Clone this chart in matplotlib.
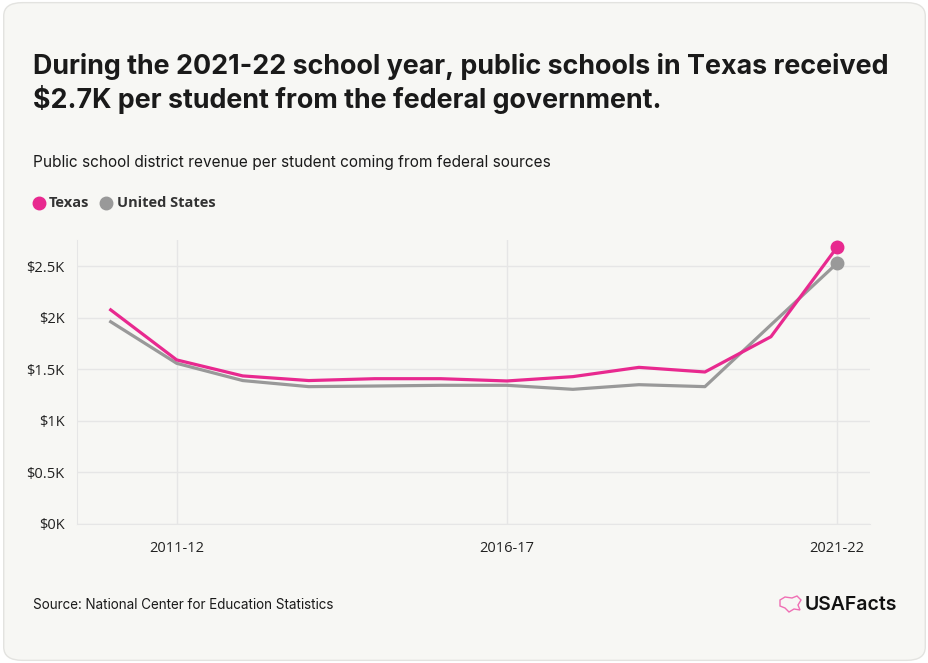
import numpy as np
import matplotlib
matplotlib.use("Agg")
import matplotlib.pyplot as plt
from matplotlib.patches import FancyBboxPatch, Polygon
from matplotlib.lines import Line2D
from matplotlib.ticker import FuncFormatter

# ---- data ----
YEARS = ["2010-11", "2011-12", "2012-13", "2013-14", "2014-15", "2015-16",
         "2016-17", "2017-18", "2018-19", "2019-20", "2020-21", "2021-22"]
TEXAS = [2075, 1590, 1435, 1390, 1408, 1408, 1386, 1428, 1518, 1473, 1815, 2681]
US = [1960, 1557, 1390, 1331, 1337, 1344, 1344, 1305, 1350, 1331, 1930, 2526]
SHOWN_TICKS = ["2011-12", "2016-17", "2021-22"]
Y_TICKS = [0, 500, 1000, 1500, 2000, 2500]

PINK = "#e8298f"
GRAY = "#999999"
BG = "#f7f7f4"
INK = "#1a1a1a"
W, H = 929, 663

def fx(px): return px / W
def fy(py): return 1 - py / H

fig = plt.figure(figsize=(9.29, 6.63), dpi=100)
fig.patch.set_facecolor("white")
card = FancyBboxPatch((0.004, 0.004), 0.992, 0.992,
                      boxstyle="round,pad=0,rounding_size=0.02",
                      transform=fig.transFigure, facecolor=BG,
                      edgecolor="#e3e3e0", linewidth=1.0, zorder=-10)
fig.patches.append(card)

# ---- text ----
fig.text(fx(33), fy(66), "During the 2021-22 school year, public schools in Texas received",
         fontsize=19.35, fontweight="bold", family="Inter", color=INK, va="center")
fig.text(fx(33), fy(99), "$2.7K per student from the federal government.",
         fontsize=19.35, fontweight="bold", family="Inter", color=INK, va="center")
fig.text(fx(33), fy(163), "Public school district revenue per student coming from federal sources",
         fontsize=11.1, family="Inter", color=INK, va="center")

# legend
for cx, col in [(39, PINK), (106, GRAY)]:
    fig.add_artist(Line2D([fx(cx)], [fy(203)], marker="o", ms=9, color=col,
                          transform=fig.transFigure))
fig.text(fx(49), fy(203), "Texas", fontsize=10.5, fontweight="bold",
         family="Open Sans", color="#333333", va="center")
fig.text(fx(117), fy(203), "United States", fontsize=10.5, fontweight="bold",
         family="Open Sans", color="#333333", va="center")

fig.text(fx(33), fy(605), "Source: National Center for Education Statistics",
         fontsize=9.7, family="Inter", color=INK, va="center")
fig.text(fx(897), fy(605), "USAFacts", fontsize=14, family="Inter",
         fontweight="semibold", color="#111111", va="center", ha="right")
# small outline mark next to the wordmark
icon = [(780, 600), (785, 597), (792, 598), (797, 596), (801, 600), (798, 605),
        (800, 610), (794, 609), (789, 612), (785, 608), (780, 606)]
fig.add_artist(Polygon([(fx(a), fy(b)) for a, b in icon], closed=True, fill=False,
                       edgecolor="#ef6fb4", lw=1.0, transform=fig.transFigure))

# ---- chart ----
ax = fig.add_axes([fx(77), fy(524), (870 - 77) / W, (524 - 240) / H])
ax.set_facecolor(BG)
x = np.arange(len(YEARS))
ax.plot(x, US, color=GRAY, lw=2.3, zorder=3)
ax.plot(x, TEXAS, color=PINK, lw=2.3, zorder=4)
ax.plot(x[-1], US[-1], "o", color=GRAY, ms=9, zorder=5)
ax.plot(x[-1], TEXAS[-1], "o", color=PINK, ms=9, zorder=6)

ax.set_xlim(-0.51, 11.5)
ax.set_ylim(0, 2752)
ax.set_xticks([YEARS.index(t) for t in SHOWN_TICKS])
ax.set_xticklabels(SHOWN_TICKS)
ax.set_yticks(Y_TICKS)
ax.yaxis.set_major_formatter(FuncFormatter(
    lambda v, p: "$0K" if v == 0 else f"${v/1000:g}K"))
ax.grid(True, color="#e6e6e6", lw=1.0, zorder=0)
for s in ["top", "right"]:
    ax.spines[s].set_visible(False)
ax.spines["left"].set_color("#e6e6e6")
ax.spines["bottom"].set_color("#e6e6e6")
ax.tick_params(length=0, labelsize=10.5, colors="#222222")
ax.tick_params(axis="y", pad=9)
ax.tick_params(axis="x", pad=12)
for lbl in ax.get_xticklabels() + ax.get_yticklabels():
    lbl.set_family("Open Sans")

plt.savefig("out.png", dpi=100, facecolor=fig.get_facecolor())
